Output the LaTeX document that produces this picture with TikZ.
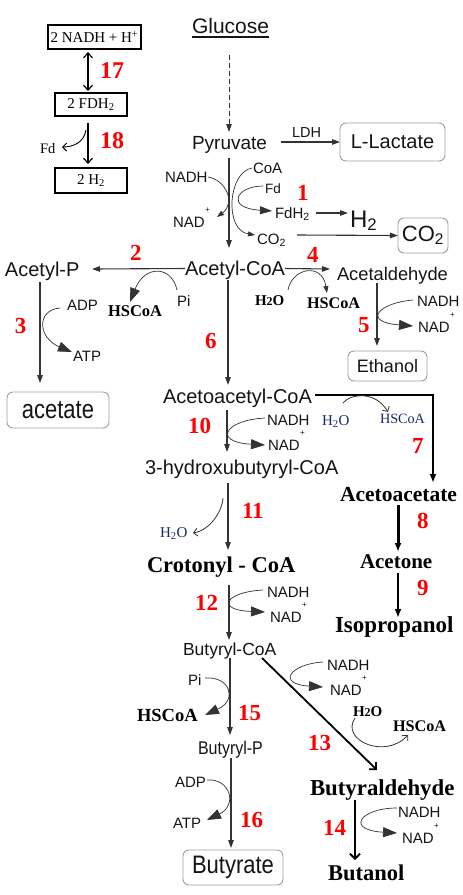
\documentclass[tikz,border=0pt]{standalone}
\usepackage{fontspec}
\setmainfont{Liberation Serif}
\setsansfont{Liberation Sans}
\usetikzlibrary{arrows.meta,calc}
\newcommand\fs[1]{\fontsize{#1}{#1}\selectfont}
\newcommand\plusup{\kern0.5pt\raisebox{15pt}{\fs{8}+}}
\definecolor{lbl}{HTML}{151515}
\definecolor{ln}{HTML}{333333}
\definecolor{bluet}{HTML}{1A2870}
\begin{document}
\begin{tikzpicture}[x=1pt,y=-1pt,
  every node/.style={inner sep=0pt,outer sep=0pt,anchor=base west},
  sfz/.style={font=\sffamily\fs{#1},text=lbl},
  tbz/.style={font=\rmfamily\bfseries\fs{#1},text=black},
  bz/.style={font=\rmfamily\fs{#1},text=bluet},
  num/.style={font=\rmfamily\bfseries\fs{23},text=red},
  rbox/.style={draw=gray!75,line width=0.9pt,rounded corners=6pt,anchor=center,fill=white,text=lbl},
  tbox/.style={draw=black,line width=1.4pt,anchor=center,font=\rmfamily\fs{15}},
  mainar/.style={draw=ln,line width=1.1pt,-{Triangle[length=8pt,width=5.5pt]}},
  dasharr/.style={draw=ln,line width=0.9pt,dash pattern=on 5pt off 3pt,-{Triangle[length=8pt,width=5.5pt]}},
  cof/.style={draw=ln,line width=0.7pt,-{Triangle[length=14pt,width=10pt]}},
  cofs/.style={draw=ln,line width=0.7pt,-{Triangle[length=7pt,width=5pt]}},
  barb/.style={draw=ln,line width=0.8pt,-{Straight Barb[length=4pt,width=8pt]}},
  thk/.style={draw=black,line width=2.4pt,-{Latex[length=9pt,width=7pt]}},
  thkb/.style={draw=black,line width=1.8pt,-{Straight Barb[length=5pt,width=10pt]}},
  topar/.style={draw=black,line width=1.2pt},
]
\fill[white] (0,0) rectangle (463,895);
\useasboundingbox (0,0) rectangle (463,895);

% ---------- top-left boxes ----------
\node[tbox,minimum width=93pt,minimum height=24pt] (nh) at (94.5,37) {2 NADH + H\textsuperscript{+}};
\node[tbox,minimum width=72pt,minimum height=23pt] (fb) at (91,104.5) {2 FDH\textsubscript{2}};
\node[tbox,minimum width=72pt,minimum height=25pt] (hb) at (91,180.5) {2 H\textsubscript{2}};
\node[num,font=\rmfamily\bfseries\fs{24}] (n17) at (100,78) {17};
\node[num,font=\rmfamily\bfseries\fs{24}] (n18) at (100,148) {18};
\node[font=\rmfamily\fs{14.5}] (fdt) at (40,153) {Fd};
\draw[topar,{Straight Barb[length=5pt,width=9pt]}-{Straight Barb[length=5pt,width=9pt]}] ($(nh.south)+(-6.5,3)$) -- ($(fb.north)+(-3,-2)$);
\draw[topar,-{Straight Barb[length=5pt,width=9pt]}] ($(fb.south)+(-3,7)$) -- ($(hb.north)+(-3,-4)$);
\coordinate (fds) at ($(fb.south)+(-5,14)$);
\draw[topar,line width=0.9pt,-{Straight Barb[length=4pt,width=8pt]}] (fds) .. controls (84,142) and (74,147) .. ($(fdt.base west)+(22,-6)$);

% ---------- main labels ----------
\node[sfz=21] (glu) at (192,33) {Glucose};
\draw[lbl,line width=1.2pt] ($(glu.base west)+(0,4)$) -- ($(glu.base east)+(0,4)$);
\node[sfz=19] (pyr) at (192,149) {Pyruvate};
\node[sfz=14.5] (ldh) at (292,137) {LDH};
\node[rbox,minimum width=105pt,minimum height=38pt,font=\sffamily\fs{20}] (lac) at (392.5,142) {L-Lactate};
\node[sfz=15] (nadh1) at (165,182) {NADH};
\node[sfz=15] (nad1) at (173,227) {NAD\plusup};
\node[sfz=15] (coa) at (253,173) {CoA};
\node[sfz=13.5] (fd) at (265,193) {Fd};
\node[sfz=15] (fdh2) at (275,218) {FdH\textsubscript{2}};
\node[sfz=24] (h2) at (350,227) {H\textsubscript{2}};
\node[sfz=15] (co2s) at (257,244) {CO\textsubscript{2}};
\node[rbox,minimum width=50pt,minimum height=35pt,font=\sffamily\fs{22}] (co2b) at (423,235.5) {CO\textsubscript{2}};
\node[num] (n1) at (297,200) {1};

\node[sfz=20] (acoa) at (185,275) {Acetyl-CoA};
\node[sfz=20] (acp) at (5,276) {Acetyl-P};
\node[num] (n2) at (130,260) {2};
\node[sfz=15] (pi2) at (177,306) {Pi};
\node[tbz=16.5] (hs2) at (108,316) {HSCoA};
\node[num] (n3) at (15,333) {3};
\node[sfz=15] (adp3) at (67,310) {ADP};
\node[sfz=15] (atp3) at (73,361) {ATP};
\node[rbox,minimum width=102pt,minimum height=36pt,font=\sffamily\fs{22}] (acet) at (58,410) {\scalebox{1}[1.2]{acetate}};
\node[num] (n6) at (205,348) {6};

\node[sfz=18.3] (acald) at (337,280) {Acetaldehyde};
\node[num] (n4) at (307,262) {4};
\node[tbz=15] (w4) at (255,305) {H{\fs{12}2}O};
\node[tbz=16.2] (hs4) at (307,308) {HSCoA};
\node[sfz=15] (nadh5) at (417,306) {NADH};
\node[sfz=15] (nad5) at (418,332) {NAD\plusup};
\node[num] (n5) at (358,332) {5};
\node[rbox,minimum width=79pt,minimum height=30pt,font=\sffamily\fs{18}] (eth) at (387.5,366) {Ethanol};

\node[sfz=20] (aacoa) at (163,403) {Acetoacetyl-CoA};
\node[bz=15] (w7) at (322,425) {H\textsubscript{2}O};
\node[bz=14.2] (hs7) at (380,423) {HSCoA};
\node[num] (n7) at (412,453) {7};
\node[sfz=15] (nadh10) at (267,425) {NADH};
\node[sfz=15] (nad10) at (268,450) {NAD\plusup};
\node[num] (n10) at (188,433) {10};
\node[sfz=20] (hbc) at (145,474) {3-hydroxubutyryl-CoA};
\node[bz=15] (w11) at (160,537) {H\textsubscript{2}O};
\node[num] (n11) at (242,518) {11};
\node[tbz=22.5] (cro) at (147,572) {Crotonyl - CoA};
\node[tbz=21.5] (aac) at (340,501) {Acetoacetate};
\node[num] (n8) at (417,528) {8};
\node[tbz=21] (acn) at (360,568) {Acetone};
\node[num] (n9) at (417,595) {9};
\node[tbz=23] (iso) at (335,632) {Isopropanol};
\node[sfz=15] (nadh12) at (267,597) {NADH};
\node[sfz=15] (nad12) at (270,622) {NAD\plusup};
\node[num] (n12) at (195,610) {12};

\node[sfz=17.5] (bcoa) at (183,655) {Butyryl-CoA};
\node[sfz=15] (pi15) at (188,685) {Pi};
\node[tbz=18.5] (hs15) at (137,721) {HSCoA};
\node[num] (n15) at (238,720) {15};
\node[sfz=16] (bp) at (198,754) {\scalebox{1}[1.15]{Butyryl-P}};
\node[sfz=15] (adp16) at (175,787) {ADP};
\node[sfz=15] (atp16) at (173,828) {ATP};
\node[num] (n16) at (240,827) {16};
\node[rbox,minimum width=100pt,minimum height=35pt,font=\sffamily\fs{22}] (buty) at (233,867.5) {\scalebox{1}[1.15]{Butyrate}};
\node[sfz=15] (nadh13) at (327,670) {NADH};
\node[sfz=15] (nad13) at (330,695) {NAD\plusup};
\node[tbz=15] (w13) at (353,716) {H{\fs{12}2}O};
\node[tbz=16.2] (hs13) at (393,731) {HSCoA};
\node[num] (n13) at (308,750) {13};
\node[tbz=22.8] (bald) at (310,795) {Butyraldehyde};
\node[num] (n14) at (323,835) {14};
\node[sfz=15] (nadh14) at (398,817) {NADH};
\node[sfz=15] (nad14) at (402,843) {NAD\plusup};
\node[tbz=22.5] (buol) at (328,880) {Butanol};

% ---------- main column ----------
\draw[dasharr] ($(glu.base west)+(37,22)$) -- ($(pyr.base west)+(37,-17)$);
\draw[mainar] ($(pyr.base west)+(37,9)$) -- ($(acoa.base west)+(44,-27)$);
\draw[mainar] ($(acoa.base west)+(43,5)$) -- ($(aacoa.base west)+(65,-18)$);
\draw[mainar] ($(aacoa.base west)+(64,7)$) -- ($(hbc.base west)+(82,-22)$);
\draw[mainar] ($(hbc.base west)+(83,9)$) -- ($(cro.base west)+(81,-22)$);
\draw[mainar] ($(cro.base west)+(82,13)$) -- ($(bcoa.base west)+(46,-15)$);
\draw[mainar] ($(bcoa.base west)+(47,3)$) -- ($(bp.base west)+(32,-19)$);
\draw[mainar] ($(bp.base west)+(33,4)$) -- ($(buty.north west)+(48,-2)$);

% ---------- side arrows ----------
\draw[mainar] ($(pyr.base west)+(89,-7)$) -- (lac.west);
\draw[mainar] ($(acoa.base west)+(0,-6.5)$) -- ($(acp.base west)+(87,-7)$);
\draw[mainar] ($(acoa.base west)+(100,-6.5)$) -- ($(acald.base west)+(-7,-11)$);
\draw[mainar] ($(fdh2.base west)+(41,-5)$) -- ($(h2.base west)+(-2,-14)$);
\draw[mainar] ($(co2s.base west)+(40,-9)$) -- (co2b.west);
\draw[mainar] ($(acald.base west)+(40,3)$) -- ($(eth.north west)+(29,-5)$);
\draw[mainar] ($(acp.base west)+(35,6)$) -- ($(acet.north west)+(33,-9)$);

% ---------- thick black arrows ----------
\draw[thk] ($(aacoa.base west)+(152,-8)$) -| ($(aac.base west)+(93,-18)$);
\draw[thk,line width=3pt] ($(aac.base west)+(58,4)$) -- ($(acn.base west)+(38,-16)$);
\draw[thk,line width=2pt] ($(acn.base west)+(38,5)$) -- ($(iso.base west)+(63,-14)$);
\draw[thkb] ($(bcoa.base west)+(79,3)$) -- ($(bald.base west)+(67,-25)$);
\draw[thkb] ($(bald.base west)+(45,5)$) -- ($(buol.base west)+(27,-20)$);

% ---------- cofactor curves ----------
\draw[cofs] ($(nadh1.base west)+(43,-5)$) .. controls (226,180) and (236,203) .. ($(nad1.base west)+(44,-10)$);
\draw[cofs] ($(coa.base west)+(-1,-5)$) .. controls (228,172) and (224,230) .. ($(co2s.base west)+(-2,-9)$);
\draw[cof,-{Triangle[length=12pt,width=8pt]}] ($(fd.base west)+(-2,-7)$) .. controls (236,186) and (225,208) .. ($(fdh2.base west)+(-3,-7)$);
\draw[cof] ($(pi2.base west)+(0,-16)$) .. controls (172,266) and (145,264) .. ($(hs2.base west)+(22,-14)$);
\draw[cof] ($(adp3.base west)+(-7,-2)$) .. controls (36,310) and (38,338) .. ($(atp3.base west)+(-1,-9)$);
\draw[cofs] ($(w4.base west)+(33,-15)$) .. controls (292,268) and (322,262) .. ($(hs4.base west)+(20,-15)$);
\draw[cof] ($(nadh5.base west)+(-4,-6)$) .. controls (378,303) and (362,322) .. ($(nad5.base west)+(-5,-6)$);
\draw[barb] ($(w7.base west)+(21,-22)$) .. controls (350,394) and (375,390) .. ($(hs7.base west)+(8,-11)$);
\draw[cof] ($(nadh10.base west)+(-2,-7)$) .. controls (225,420) and (212,442) .. ($(nad10.base west)+(-3,-5)$);
\coordinate (s11) at ($(hbc.base west)+(78,24)$);
\draw[barb] (s11) .. controls (222,512) and (210,530) .. ($(w11.base west)+(33,-4)$);
\draw[cof] ($(nadh12.base west)+(-4,-7)$) .. controls (225,592) and (215,610) .. ($(nad12.base west)+(-5,-10)$);
\draw[cof] ($(nadh13.base west)+(-4,-8)$) .. controls (290,664) and (276,684) .. ($(nad13.base west)+(-7,-8)$);
\draw[barb] ($(w13.base west)+(2,2)$) .. controls (340,740) and (385,760) .. ($(hs13.base west)+(15,4)$);
\draw[cof] ($(nadh14.base west)+(-1,-9)$) .. controls (360,808) and (345,830) .. ($(nad14.base west)+(-5,-10)$);
\draw[cof] ($(pi15.base west)+(17,-7)$) .. controls (230,676) and (238,700) .. ($(hs15.base west)+(68,-6)$);
\draw[cof] ($(adp16.base west)+(32,-7)$) .. controls (230,778) and (238,805) .. ($(atp16.base west)+(34,-8)$);
\end{tikzpicture}
\end{document}
